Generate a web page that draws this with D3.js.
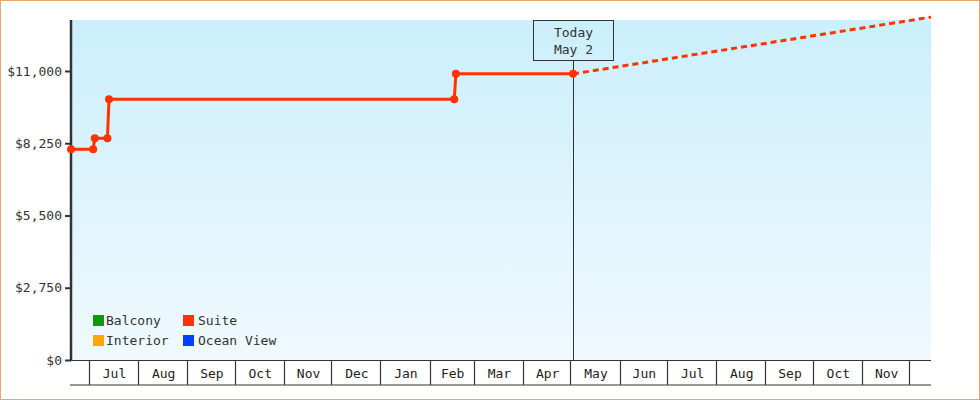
<!DOCTYPE html>
<html lang="en">
<head>
	<meta charset="UTF-8"/>
	<title>Suite price history</title>
	<script src="https://d3js.org/d3.v7.min.js"></script>
	<style>
		body { margin:0; background:#fff; }
		svg { display:block; font-family:"DejaVu Sans Mono", monospace; }
	</style>
</head>
<body>
<script>
	var w = 980;
	var h = 400;

	// price points for the Suite cabin (date, price)
	var suiteDates  = ["2024-06-19","2024-07-03","2024-07-04","2024-07-12","2024-07-13","2025-02-16","2025-02-17","2025-05-02"];
	var suitePrices = [8020, 8020, 8440, 8440, 9920, 9920, 10890, 10890];

	// projected price after today
	var forecastDates  = ["2025-05-02","2025-12-14"];
	var forecastPrices = [10890, 13050];

	var today = "2025-05-02";
	var todayLabel = ["Today","May 2"];

	var yTicks = [0, 2750, 5500, 8250, 11000];
	var legendNames  = ["Balcony","Interior","Suite","Ocean View"];
	var legendColors = ["#0a9a0a","#ffa500","#ff3300","#0040ff"];

	var parse = d3.timeParse("%Y-%m-%d");
	// "top" is taken by window.top, so plot edges get their own names
	var pLeft = 71, pRight = 931, pTop = 20, pBottom = 360, axisBottom = 385;

	var xScale = d3.scaleTime()
				.domain([parse("2024-06-19"), parse("2025-12-14")])
				.range([pLeft, pRight]);
	var yScale = d3.scaleLinear()
				.domain([0, 12940])
				.range([pBottom, pTop]);

	var svg = d3.select("body")
				.append("svg")
				.attr("width", w)
				.attr("height", h);

	// outer frame
	svg.append("rect")
		.attr("x",0.5).attr("y",0.5)
		.attr("width",w-1).attr("height",h-1)
		.attr("fill","#fff")
		.attr("stroke","#eaa866");

	var grad = svg.append("defs").append("linearGradient")
				.attr("id","bg").attr("x1",0).attr("y1",0).attr("x2",0).attr("y2",1);
	grad.append("stop").attr("offset","0%").attr("stop-color","#cbeffc");
	grad.append("stop").attr("offset","100%").attr("stop-color","#f0f9fe");

	svg.append("rect")
		.attr("x",pLeft).attr("y",pTop)
		.attr("width",pRight-pLeft).attr("height",pBottom-pTop)
		.attr("fill","url(#bg)");

	//-------- month band under the plot --------
	var months = d3.timeMonth.range(d3.timeMonth.ceil(xScale.domain()[0]), xScale.domain()[1]);
	var band = svg.append("g").attr("stroke","#333").attr("stroke-width",1.2);
	band.append("line").attr("x1",pLeft-1).attr("x2",pRight).attr("y1",pBottom+0.5).attr("y2",pBottom+0.5);
	band.append("line").attr("x1",pLeft-1).attr("x2",pRight).attr("y1",axisBottom).attr("y2",axisBottom);
	band.selectAll("line.div")
		.data(months)
		.enter()
		.append("line")
		.attr("class","div")
		.attr("x1",function(d){ return Math.round(xScale(d))-0.5; })
		.attr("x2",function(d){ return Math.round(xScale(d))-0.5; })
		.attr("y1",pBottom)
		.attr("y2",axisBottom);

	// label only the full months
	var fmt = d3.timeFormat("%b");
	svg.selectAll("text.month")
		.data(months.slice(0, months.length-1))
		.enter()
		.append("text")
		.attr("class","month")
		.attr("x",function(d){ return (xScale(d) + xScale(d3.timeMonth.offset(d,1)))/2; })
		.attr("y",378)
		.attr("text-anchor","middle")
		.attr("font-size",13)
		.attr("fill","#222")
		.text(fmt);

	//-------- y axis --------
	var yAxis = d3.axisLeft(yScale)
				.tickValues(yTicks)
				.tickSize(6)
				.tickFormat(function(d){ return "$" + d3.format(",")(d); });
	var gy = svg.append("g")
				.attr("transform","translate(" + pLeft + ",0)")
				.call(yAxis);
	gy.select(".domain").remove();
	gy.selectAll(".tick line").attr("stroke","#333").attr("stroke-width",2);
	gy.selectAll(".tick text")
		.attr("font-family","DejaVu Sans Mono, monospace")
		.attr("font-size",13)
		.attr("fill","#333")
		.attr("x",-9);
	svg.append("line")
		.attr("x1",pLeft).attr("x2",pLeft)
		.attr("y1",pTop).attr("y2",pBottom+1)
		.attr("stroke","#333").attr("stroke-width",2.5);

	//-------- today marker --------
	var tx = Math.round(xScale(parse(today))) + 0.5;
	svg.append("line")
		.attr("x1",tx).attr("x2",tx)
		.attr("y1",60).attr("y2",pBottom)
		.attr("stroke","#333").attr("stroke-width",1);
	svg.append("rect")
		.attr("x",tx-40).attr("y",20.5)
		.attr("width",80).attr("height",40)
		.attr("fill","none")
		.attr("stroke","#333");
	svg.selectAll("text.today")
		.data(todayLabel)
		.enter()
		.append("text")
		.attr("class","today")
		.attr("x",tx)
		.attr("y",function(d,i){ return 37 + i*17; })
		.attr("text-anchor","middle")
		.attr("font-size",13)
		.attr("fill","#333")
		.text(function(d){ return d; });

	//-------- suite line --------
	var suite = suiteDates.map(function(d,i){ return {date:parse(d), price:suitePrices[i]}; });
	var forecast = forecastDates.map(function(d,i){ return {date:parse(d), price:forecastPrices[i]}; });

	var line = d3.line()
				.x(function(d){ return xScale(d.date); })
				.y(function(d){ return yScale(d.price); });

	svg.append("path")
		.datum(forecast)
		.attr("d",line)
		.attr("fill","none")
		.attr("stroke","#ff3300")
		.attr("stroke-width",3)
		.attr("stroke-dasharray","6,4");

	svg.append("path")
		.datum(suite)
		.attr("d",line)
		.attr("fill","none")
		.attr("stroke","#ff3300")
		.attr("stroke-width",3);

	svg.selectAll("circle")
		.data(suite)
		.enter()
		.append("circle")
		.attr("cx",function(d){ return xScale(d.date); })
		.attr("cy",function(d){ return yScale(d.price); })
		.attr("r",4)
		.attr("fill","#ff3300");

	//-------- legend --------
	var lg = svg.selectAll("g.legend")
				.data(legendNames)
				.enter()
				.append("g")
				.attr("class","legend")
				.attr("transform",function(d,i){
					return "translate(" + (93 + Math.floor(i/2)*90) + "," + (315 + (i%2)*20) + ")";
				});
	lg.append("rect")
		.attr("width",11).attr("height",11)
		.attr("fill",function(d,i){ return legendColors[i]; });
	lg.append("text")
		.attr("x",function(d,i){ return i < 2 ? 13 : 15; })
		.attr("y",10)
		.attr("font-size",13)
		.attr("fill","#333")
		.text(function(d){ return d; });
</script>
</body>
</html>
